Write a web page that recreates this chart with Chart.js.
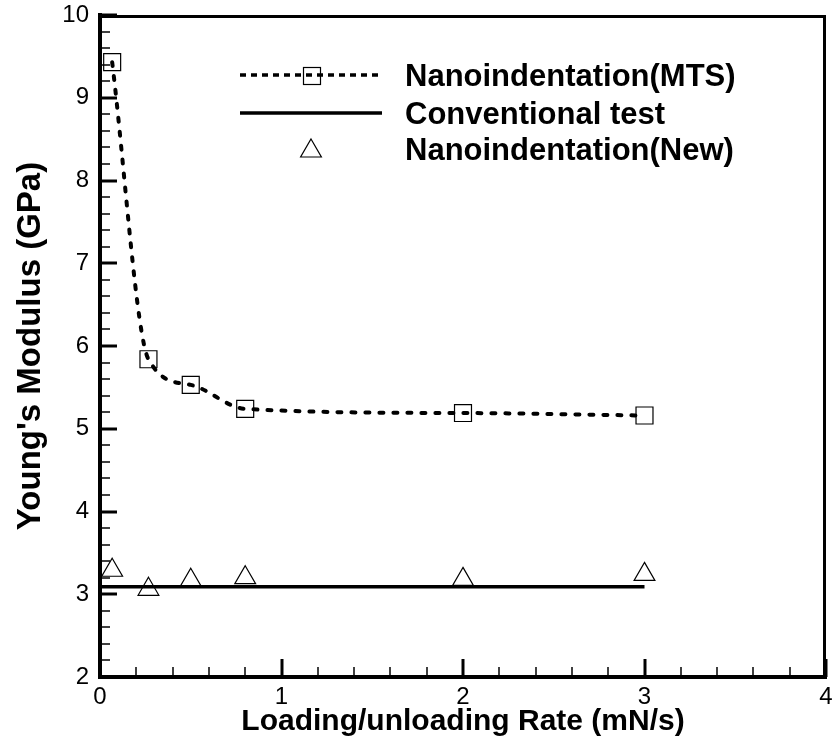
<!DOCTYPE html>
<html>
<head>
<meta charset="utf-8">
<script src="https://cdn.jsdelivr.net/npm/chart.js@4.4.0/dist/chart.umd.min.js"></script>
<style>
    html, body { margin: 0; padding: 0; background: #fff; }
    #wrap { width: 835px; height: 740px; }
</style>
</head>
<body>
<div id="wrap"><canvas id="myChart" width="835" height="740"></canvas></div>
<script>
// loading/unloading rate (mN/s)
var rates = [0.067, 0.267, 0.5, 0.8, 2, 3];
// Young's modulus (GPa)
var modulusMTS = [9.43, 5.84, 5.53, 5.24, 5.19, 5.16];
var modulusNew = [3.29, 3.06, 3.17, 3.20, 3.18, 3.24];
var conventionalX = [0, 3];
var conventionalY = [3.09, 3.09];

var xTicks = [0, 1, 2, 3, 4];
var yTicks = [2, 3, 4, 5, 6, 7, 8, 9, 10];
var seriesNames = ['Nanoindentation(MTS)', 'Conventional test', 'Nanoindentation(New)'];

var FONT = "'Liberation Sans', Arial, sans-serif";

function toPoints(xs, ys) {
    var pts = [];
    for (var i = 0; i < xs.length; i++) {
        pts.push({ x: xs[i], y: ys[i] });
    }
    return pts;
}

function drawSquare(ctx, x, y) {
    ctx.lineWidth = 1.2;
    ctx.strokeRect(Math.round(x - 8.5) + 0.5, Math.round(y - 8.5) + 0.5, 17, 17);
}

function drawTriangle(ctx, x, y) {
    var r = 12;
    ctx.lineWidth = 1.2;
    ctx.beginPath();
    ctx.moveTo(x, y - r);
    ctx.lineTo(x + r * Math.sin(2 * Math.PI / 3), y + r / 2);
    ctx.lineTo(x - r * Math.sin(2 * Math.PI / 3), y + r / 2);
    ctx.closePath();
    ctx.stroke();
}

// top/right frame and inward tick marks
var frameTicks = {
    id: 'frameTicks',
    beforeDatasetsDraw: function (chart) {
        var ctx = chart.ctx, a = chart.chartArea;
        var xs = chart.scales.x, ys = chart.scales.y;
        ctx.save();
        ctx.strokeStyle = '#000';
        ctx.lineWidth = 3;
        ctx.beginPath();
        ctx.moveTo(a.left, a.top + 1.5);
        ctx.lineTo(a.right - 1.5, a.top + 1.5);
        ctx.lineTo(a.right - 1.5, a.bottom);
        ctx.stroke();

        function tick(scale, v, major) {
            var p = Math.round(scale.getPixelForValue(v));
            ctx.lineWidth = major ? 3 : 1.5;
            ctx.beginPath();
            if (scale.axis === 'y') {
                ctx.moveTo(a.left, p);
                ctx.lineTo(a.left + (major ? 17 : 10), p);
            } else {
                ctx.moveTo(p, a.bottom);
                ctx.lineTo(p, a.bottom - (major ? 18 : 10));
            }
            ctx.stroke();
        }
        [[ys, yTicks], [xs, xTicks]].forEach(function (pair) {
            var sc = pair[0], t = pair[1];
            for (var i = 0; i < t.length; i++) {
                tick(sc, t[i], true);
                if (i < t.length - 1) {
                    for (var k = 1; k < 5; k++) {
                        tick(sc, t[i] + k * (t[i + 1] - t[i]) / 5, false);
                    }
                }
            }
        });
        ctx.restore();
    }
};

// legend drawn inside the plot, as in the original figure
var innerLegend = {
    id: 'innerLegend',
    afterDatasetsDraw: function (chart) {
        var ctx = chart.ctx;
        var ds = chart.data.datasets;
        var x0 = 240, x1 = 382, mx = 311, tx = 405;
        var rows = [75, 113, 149];
        ctx.save();
        ctx.strokeStyle = '#000';
        ctx.fillStyle = '#000';

        ctx.lineWidth = 3.5;
        ctx.setLineDash([6, 5]);
        ctx.beginPath();
        ctx.moveTo(x0, rows[0]);
        ctx.lineTo(x1, rows[0]);
        ctx.stroke();
        ctx.setLineDash([]);
        drawSquare(ctx, mx, rows[0]);

        ctx.lineWidth = 3.5;
        ctx.beginPath();
        ctx.moveTo(x0, rows[1]);
        ctx.lineTo(x1, rows[1]);
        ctx.stroke();

        drawTriangle(ctx, mx, rows[2] + 2);

        ctx.font = 'bold 31px ' + FONT;
        ctx.textAlign = 'left';
        ctx.textBaseline = 'middle';
        for (var i = 0; i < ds.length; i++) {
            ctx.fillText(ds[i].label, tx, rows[i] + 2);
        }
        ctx.restore();
    }
};

var ctx = document.getElementById('myChart');
var myChart = new Chart(ctx, {
    type: 'scatter',
    data: {
        datasets: [{
            label: seriesNames[0],
            data: toPoints(rates, modulusMTS),
            showLine: true,
            cubicInterpolationMode: 'monotone',
            borderColor: '#000',
            borderWidth: 4,
            borderDash: [4, 10],
            borderCapStyle: 'round',
            pointStyle: 'rect',
            pointRadius: 12,
            pointBorderWidth: 1.2,
            pointBorderColor: '#000',
            pointBackgroundColor: 'rgba(0,0,0,0)'
        }, {
            label: seriesNames[1],
            data: toPoints(conventionalX, conventionalY),
            showLine: true,
            borderColor: '#000',
            borderWidth: 3.5,
            pointRadius: 0
        }, {
            label: seriesNames[2],
            data: toPoints(rates, modulusNew),
            showLine: false,
            pointStyle: 'triangle',
            pointRadius: 12,
            pointBorderWidth: 1.2,
            pointBorderColor: '#000',
            pointBackgroundColor: 'rgba(0,0,0,0)'
        }]
    },
    options: {
        responsive: false,
        animation: false,
        layout: { autoPadding: false, padding: { top: 15, right: 9, left: 0, bottom: 0 } },
        plugins: {
            legend: { display: false },
            tooltip: { enabled: false }
        },
        scales: {
            x: {
                type: 'linear',
                min: xTicks[0],
                max: xTicks[xTicks.length - 1],
                afterBuildTicks: function (s) {
                    s.ticks = xTicks.map(function (v) { return { value: v }; });
                },
                afterFit: function (s) {
                    s.height = 63;
                    s.paddingLeft = 0;
                    s.paddingRight = 0;
                },
                grid: { display: false, drawTicks: false, tickLength: 0 },
                border: { display: true, width: 4, color: '#000' },
                ticks: {
                    color: '#000',
                    padding: 6,
                    maxRotation: 0,
                    autoSkip: false,
                    font: { family: FONT, size: 24 }
                },
                title: {
                    display: true,
                    text: 'Loading/unloading Rate (mN/s)',
                    color: '#000',
                    padding: { top: 0, bottom: 0 },
                    font: { family: FONT, size: 30, weight: 'bold' }
                }
            },
            y: {
                type: 'linear',
                min: yTicks[0],
                max: yTicks[yTicks.length - 1],
                afterBuildTicks: function (s) {
                    s.ticks = yTicks.map(function (v) { return { value: v }; });
                },
                afterFit: function (s) {
                    s.width = 100;
                    s.paddingTop = 0;
                    s.paddingBottom = 0;
                },
                grid: { display: false, drawTicks: false, tickLength: 0 },
                border: { display: true, width: 4, color: '#000' },
                ticks: {
                    color: '#000',
                    padding: 11,
                    autoSkip: false,
                    font: { family: FONT, size: 24 }
                },
                title: {
                    display: true,
                    text: "Young's Modulus (GPa)",
                    color: '#000',
                    padding: { top: 11, bottom: 0 },
                    font: { family: FONT, size: 33, weight: 'bold' }
                }
            }
        }
    },
    plugins: [frameTicks, innerLegend]
});
</script>
</body>
</html>
